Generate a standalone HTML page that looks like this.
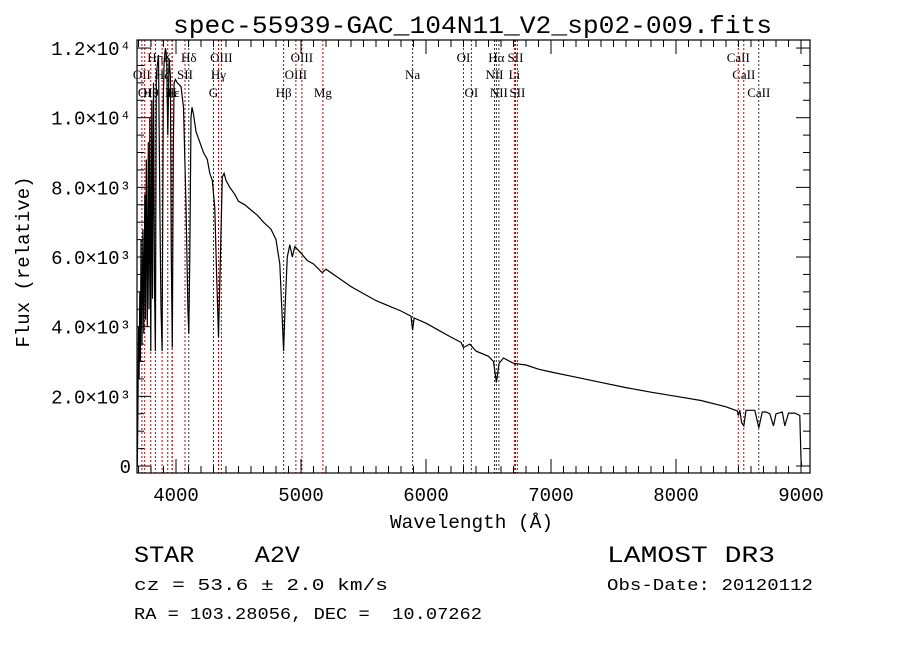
<!DOCTYPE html>
<html><head><meta charset="utf-8"><style>
html,body{margin:0;padding:0;background:#fff;}
svg{display:block;}
text{font-family:"Liberation Mono",monospace;fill:#000;white-space:pre;}
.ln{font-family:"Liberation Serif",serif;font-size:13px;}
</style></head><body>
<svg id="chart" width="900" height="649" viewBox="0 0 900 649" xmlns="http://www.w3.org/2000/svg" xml:space="preserve">
<rect width="900" height="649" fill="#fff"/>
<text x="173" y="33" font-size="25" textLength="599" lengthAdjust="spacingAndGlyphs">spec-55939-GAC_104N11_V2_sp02-009.fits</text>
<g id="lines"></g>
<g id="axes"></g>
<path id="spec" fill="none" stroke="#000" stroke-width="1.2"/>
<text x="390" y="528" font-size="19" textLength="163" lengthAdjust="spacingAndGlyphs">Wavelength (Å)</text>
<text transform="translate(29,262) rotate(-90)" font-size="19" text-anchor="middle">Flux (relative)</text>
<text x="134" y="562" font-size="23" textLength="166" lengthAdjust="spacingAndGlyphs">STAR    A2V</text>
<text x="134" y="590" font-size="17" textLength="254" lengthAdjust="spacingAndGlyphs">cz = 53.6 ± 2.0 km/s</text>
<text x="134" y="619" font-size="17" textLength="348" lengthAdjust="spacingAndGlyphs">RA = 103.28056, DEC =  10.07262</text>
<text x="607" y="562" font-size="23" textLength="168" lengthAdjust="spacingAndGlyphs">LAMOST DR3</text>
<text x="607" y="590" font-size="17" textLength="206" lengthAdjust="spacingAndGlyphs">Obs-Date: 20120112</text>
</svg>
<script>
const wavelengths=[3690,3695,3700,3705,3710,3715,3720,3728,3735,3742,3750,3756,3762,3770,3778,3784,3790,3798,3806,3812,3820,3828,3835,3842,3850,3860,3872,3880,3889,3898,3905,3915,3925,3934,3945,3955,3962,3970,3978,3985,3995,4010,4040,4060,4080,4095,4102,4110,4120,4128,4140,4160,4180,4200,4220,4250,4270,4290,4310,4325,4340,4355,4370,4385,4400,4430,4470,4500,4550,4600,4650,4700,4760,4800,4830,4850,4861,4872,4890,4910,4930,4950,4990,5050,5100,5170,5200,5300,5400,5500,5600,5700,5800,5880,5893,5905,6000,6100,6200,6280,6300,6350,6400,6500,6540,6563,6585,6620,6700,6800,6900,7000,7200,7400,7600,7800,8000,8200,8400,8490,8498,8510,8525,8542,8560,8600,8630,8662,8690,8720,8750,8780,8800,8850,8870,8900,8950,8990,9000,9005];
const fluxes=[0,1500,4000,2500,5000,3000,6500,3500,6800,3800,7800,4200,8800,4000,9300,4500,10000,3300,10500,4800,11000,5200,3300,11200,11500,11800,7000,4500,3300,10500,11600,12000,11800,9500,11700,11200,6000,3400,9000,11000,11100,11000,10900,10300,7500,4500,3800,6000,10000,10300,10100,9600,9400,9200,9000,8800,8400,8200,7400,5500,3700,6000,8300,8400,8200,8000,7800,7600,7500,7350,7200,7000,6800,6500,5800,4200,3300,4500,6000,6350,6000,6300,6150,5900,5800,5550,5650,5400,5150,4950,4750,4600,4450,4300,3900,4250,4100,3900,3700,3550,3400,3500,3300,3150,3000,2400,2950,3100,2950,2900,2780,2700,2550,2400,2250,2120,2000,1880,1700,1580,1450,1600,1250,1150,1600,1600,1600,1100,1550,1550,1500,1150,1500,1550,1150,1520,1520,1450,200,0];
const xTicks=[4000,5000,6000,7000,8000,9000];
const yTicks=[0,2000,4000,6000,8000,10000,12000];
const yTickLabels=["0","2.0×10³","4.0×10³","6.0×10³","8.0×10³","1.0×10⁴","1.2×10⁴"];
const lineWaves=[3727,3750,3798,3835,3889,3934,3968,3970,4072,4102,4300,4340,4363,4861,4959,5007,5175,5893,6300,6363,6548,6563,6583,6707,6716,6731,8498,8542,8662];
const lineLabels=["OII","OI","Hθ","Hη","Hζ","K","H","Hε","SII","Hδ","G","Hγ","OIII","Hβ","OIII","OIII","Mg","Na","OI","OI","NII","Hα","NII","Li","SII","SII","CaII","CaII","CaII"];
const lineRows=[1,2,2,0,1,0,2,2,1,0,2,1,0,2,1,0,2,1,0,2,1,0,2,1,0,2,0,1,2];
const lineRed=[1,1,1,1,1,1,1,1,1,0,0,1,1,0,1,1,1,0,1,0,0,0,0,1,1,1,1,1,0];

const X0=137,X1=810,Y0=40,Y1=473;
const W0=3688,W1=9072;
const sx=w=>X0+(w-W0)/(W1-W0)*(X1-X0);
const sy=f=>466-f*0.03483;
const NS="http://www.w3.org/2000/svg";
function mk(tag,attrs,parent){const e=document.createElementNS(NS,tag);for(const k in attrs)e.setAttribute(k,attrs[k]);parent.appendChild(e);return e;}

const lg=document.getElementById('lines');
const rowY=[62,79,97];
lineWaves.forEach((w,i)=>{
  const x=sx(w);
  const l=mk('line',{x1:x,x2:x,y1:Y0,y2:Y1,stroke:lineRed[i]?'#c00000':'#333','stroke-width':1,'stroke-dasharray':'2,2'},lg);
  
  
  const t=mk('text',{x:x,y:rowY[lineRows[i]],'text-anchor':'middle','class':'ln'},lg);
  t.textContent=lineLabels[i];
  
  
});

const ax=document.getElementById('axes');
const frame=mk('rect',{x:X0,y:Y0,width:X1-X0,height:Y1-Y0,fill:'none',stroke:'#000','stroke-width':1.2},ax);


for(let w=3700;w<=9000;w+=100){
  const x=sx(w);const major=w%1000===0;const L=major?14:7;
  mk('line',{x1:x,x2:x,y1:Y1,y2:Y1-L,stroke:'#000'},ax);
  mk('line',{x1:x,x2:x,y1:Y0,y2:Y0+L,stroke:'#000'},ax);
}
xTicks.forEach(w=>{
  const t=mk('text',{x:sx(w),y:Y1+28,'font-size':19,'text-anchor':'middle'},ax);
  t.textContent=w;
  
  
});
for(let f=0;f<=12000;f+=500){
  const y=sy(f);const major=f%2000===0;const L=major?14:7;
  mk('line',{x1:X0,x2:X0+L,y1:y,y2:y,stroke:'#000'},ax);
  mk('line',{x1:X1,x2:X1-L,y1:y,y2:y,stroke:'#000'},ax);
}
yTicks.forEach((f,i)=>{
  const t=mk('text',{x:131,y:sy(f)+7,'font-size':19,'text-anchor':'end'},ax);
  t.textContent=yTickLabels[i];
  
  
});

let d='';
wavelengths.forEach((w,i)=>{d+=(i?'L':'M')+sx(w).toFixed(1)+','+sy(fluxes[i]).toFixed(1);});
document.getElementById('spec').setAttribute('d',d);
</script>
</body></html>
